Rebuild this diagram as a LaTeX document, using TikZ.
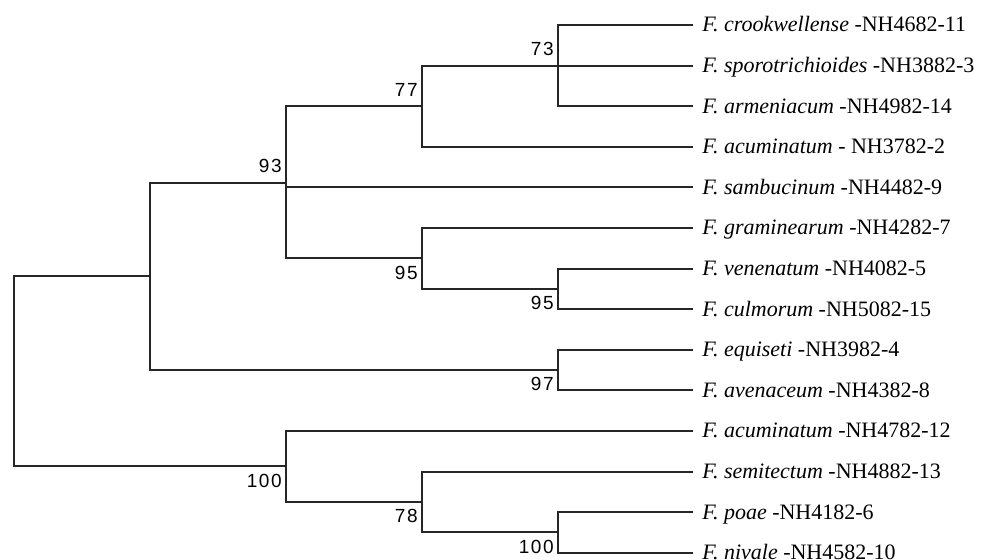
\documentclass[tikz,border=0pt]{standalone}
\usepackage{fontspec}
\setmainfont{Liberation Serif}
\newfontfamily\bootfont[LetterSpace=8]{Liberation Sans}
\usepackage{tikz}
\usetikzlibrary{calc}
\tikzset{
  branch/.style={line width=1pt,draw=black!85},
  leaf/.style={anchor=base west,inner sep=0pt,xshift=4.5pt,yshift=-3.5pt,
    font=\fontsize{11}{13}\selectfont},
  bootup/.style={anchor=base east,inner sep=0pt,
    font=\bootfont\fontsize{9.5}{11}\selectfont},
  bootdown/.style={anchor=north east,inner sep=0pt,
    font=\bootfont\fontsize{9.5}{11}\selectfont}
}

\begin{document}
\begin{tikzpicture}[x=0.5pt,y=-0.5pt]
\useasboundingbox (0,0) rectangle (987,560);
% tips
\foreach \n in {1,...,14}
  \coordinate (l\n) at (693,25+40.6*\n-40.6);
% inner nodes
\coordinate (root)  at (14,371.5);
\coordinate (nA)    at (150,276.5);
\coordinate (n93)   at (286,183);
\coordinate (n77)   at (422,106.2);
\coordinate (n73)   at (558,65.6);
\coordinate (n95a)  at (422,258.5);
\coordinate (n95b)  at (558,288.9);
\coordinate (n97)   at (558,370.1);
\coordinate (n100a) at (286,466.5);
\coordinate (n78)   at (422,502);
\coordinate (n100b) at (558,532.5);
% branches
\foreach \p/\c in {root/nA,root/n100a,nA/n93,nA/n97,
    n93/n77,n93/l5,n93/n95a,n77/n73,n77/l4,
    n73/l1,n73/l2,n73/l3,n95a/l6,n95a/n95b,n95b/l7,n95b/l8,
    n97/l9,n97/l10,n100a/l11,n100a/n78,n78/l12,n78/n100b,
    n100b/l13,n100b/l14}
  \draw[branch] (\p) |- (\c);
% support values
\foreach \n/\v in {73/73,77/77,93/93}
  \node[bootup] (b\n) at ($(n\n)+(-4,-10)$) {\v};
\foreach \n/\v in {95a/95,95b/95,97/97,100a/100,78/78,100b/100}
  \node[bootdown] (b\n) at ($(n\n)+(-4,7)$) {\v};
% taxa
\foreach \n/\s/\t in {1/crookwellense/-NH4682-11,
    2/sporotrichioides/-NH3882-3,
    3/armeniacum/-NH4982-14,
    4/acuminatum/- NH3782-2,
    5/sambucinum/-NH4482-9,
    6/graminearum/-NH4282-7,
    7/venenatum/-NH4082-5,
    8/culmorum/-NH5082-15,
    9/equiseti/-NH3982-4,
    10/avenaceum/-NH4382-8,
    11/acuminatum/-NH4782-12,
    12/semitectum/-NH4882-13,
    13/poae/-NH4182-6,
    14/nivale/-NH4582-10}
  \node[leaf] (t\n) at (l\n) {\textit{F. \s} \t};
\end{tikzpicture}
\end{document}
